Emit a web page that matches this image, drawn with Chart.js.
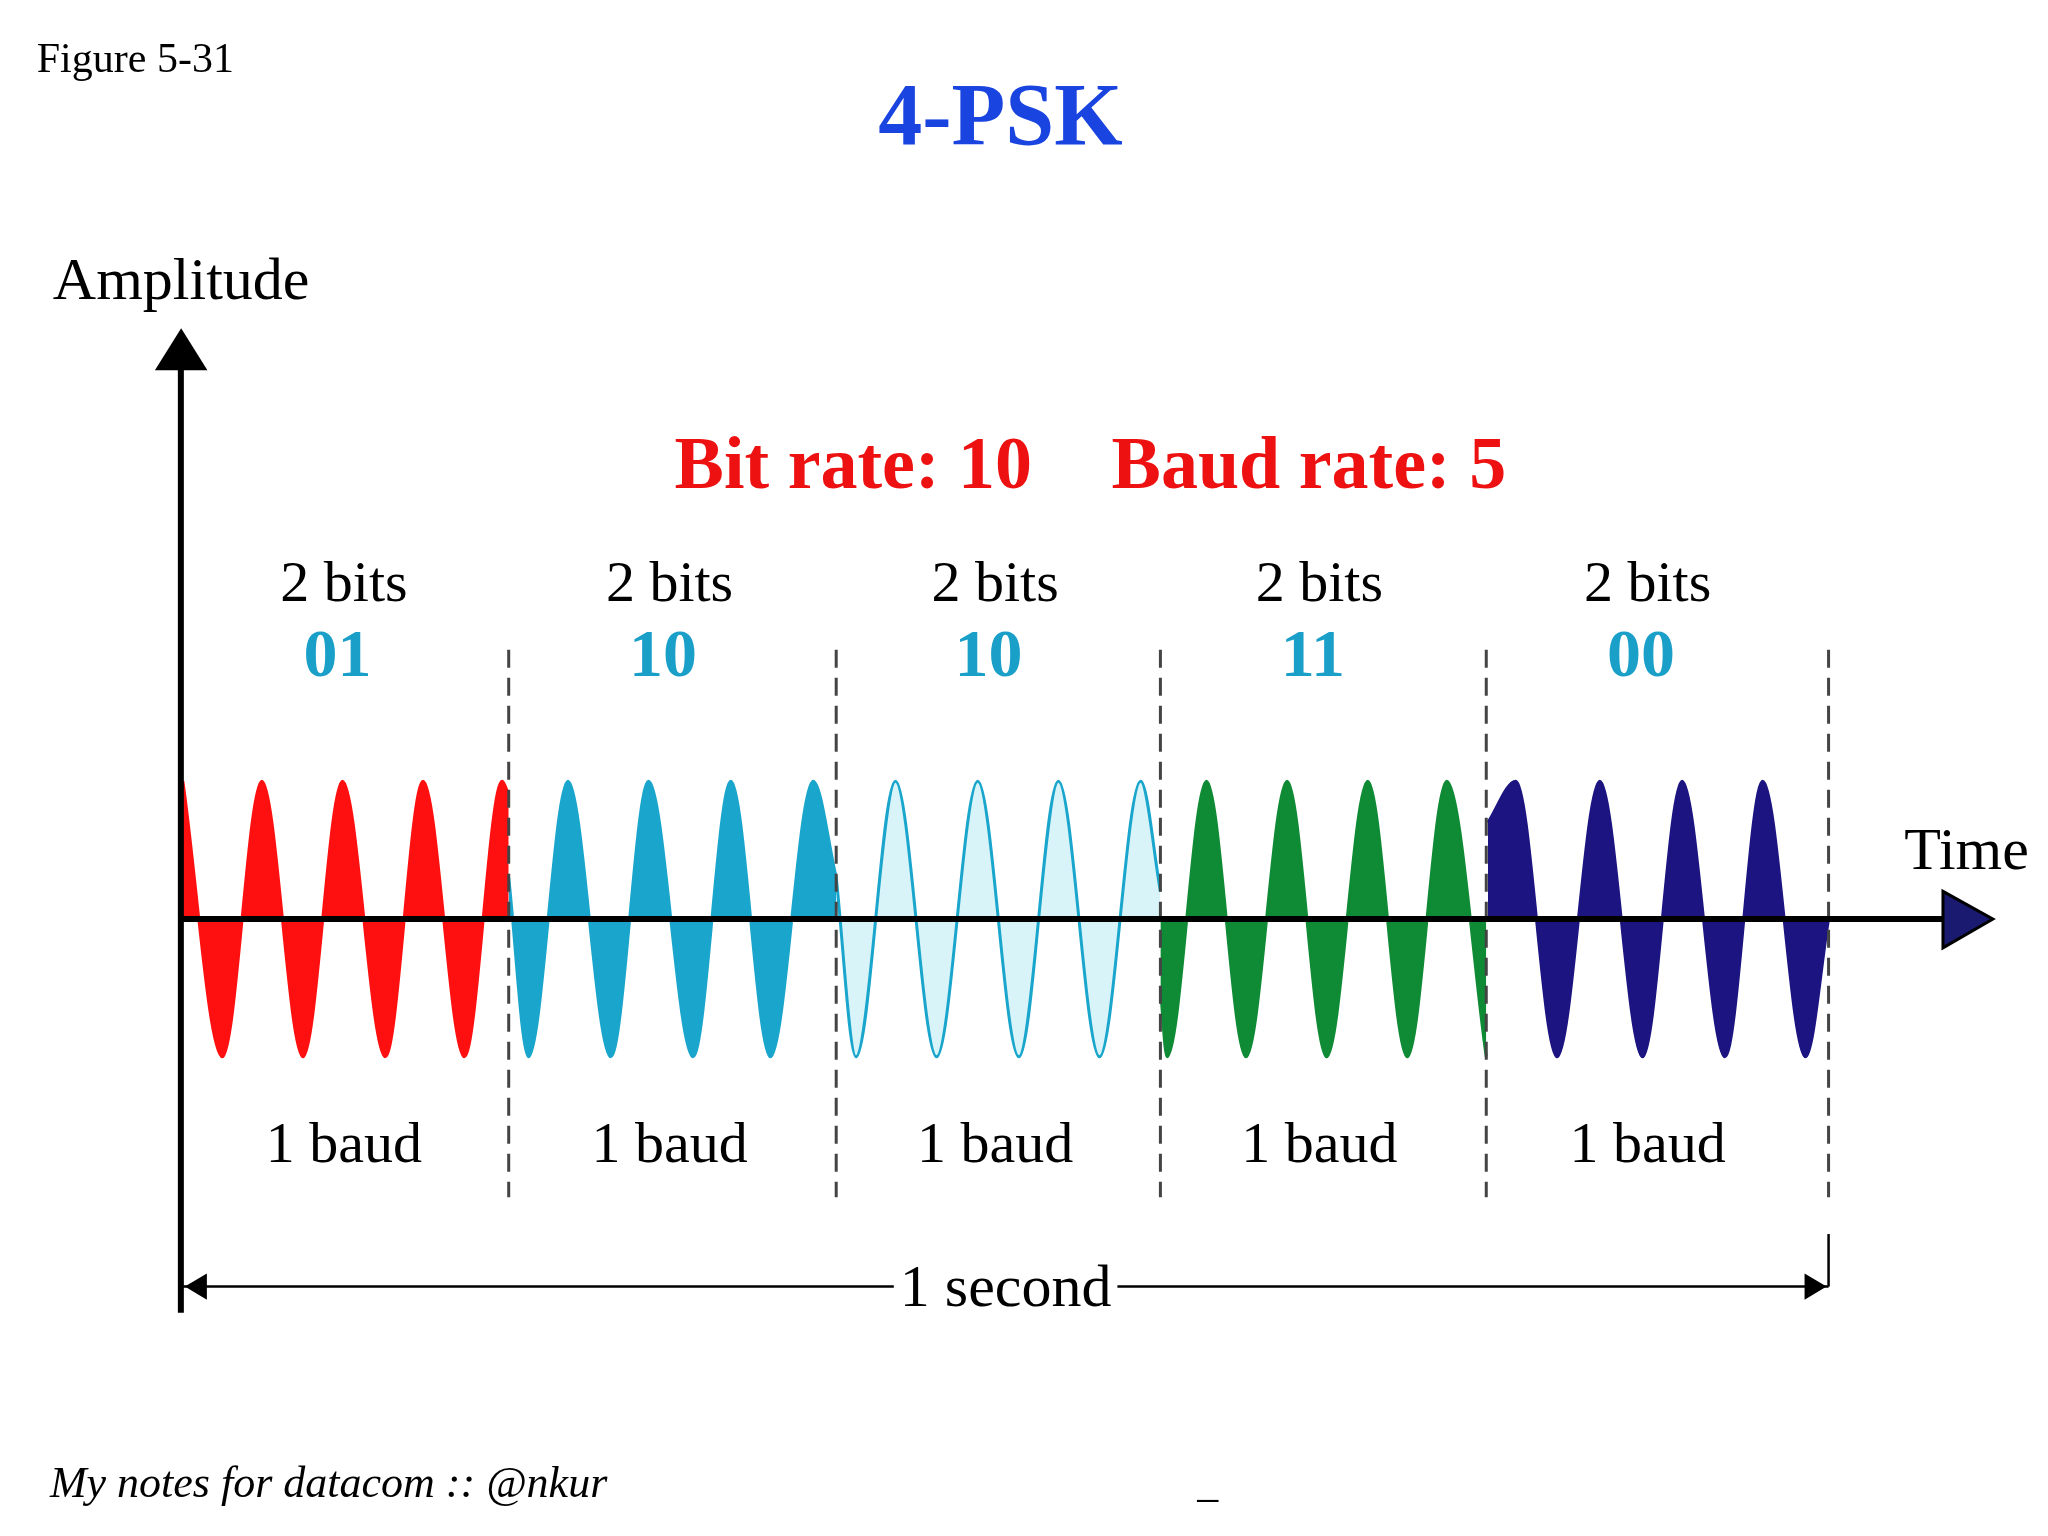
<!DOCTYPE html>
<html><head><meta charset="utf-8">
<script src="https://cdn.jsdelivr.net/npm/chart.js@4"></script>
<style>html,body{margin:0;padding:0;background:#fff}canvas{display:block}</style>
</head><body>
<canvas id="c" width="2048" height="1536" style="width:2048px;height:1536px"></canvas>
<script>
// Time (s) of each extreme and its amplitude
const seg1T=[0,0.024,0.048,0.073,0.097,0.123,0.146,0.171,0.194,0.198];
const seg1A=[1,-1,1,-1,1,-1,1,-1,1,0.9];
const seg2T=[0.198,0.21,0.234,0.26,0.283,0.31,0.333,0.357,0.383,0.397];
const seg2A=[0.3,-1,1,-1,1,-1,1,-1,1,0.3];
const seg3T=[0.397,0.409,0.433,0.458,0.483,0.508,0.532,0.557,0.582,0.594];
const seg3A=[0.3,-1,1,-1,1,-1,1,-1,1,0.2];
const seg4T=[0.594,0.598,0.622,0.646,0.671,0.695,0.72,0.744,0.768,0.792];
const seg4A=[-0.5,-1,1,-1,1,-1,1,-1,1,-1];
const seg5T=[0.793,0.81,0.835,0.861,0.887,0.911,0.937,0.96,0.986,1.0];
const seg5A=[0.7,1,-1,1,-1,1,-1,1,-1,0];
const bitLabels=["01","10","10","11","00"];
const baudBounds=[0.198,0.397,0.594,0.792,1.0];

const S=2048/1560;
const pts=(t,a)=>t.map((v,i)=>({x:v,y:a[i]}));
const ds=(t,a,fill,border)=>({data:pts(t,a),fill:'origin',backgroundColor:fill,borderColor:border,borderWidth:3,pointRadius:0,cubicInterpolationMode:'monotone'});

const deco={id:'deco',afterDatasetsDraw(ch){
  const c=ch.ctx,X=ch.scales.x,Y=ch.scales.y;
  const px=t=>X.getPixelForValue(t), py=v=>Y.getPixelForValue(v);
  const F='"Liberation Serif", "DejaVu Serif", serif';
  c.save();
  c.strokeStyle='#444';c.lineWidth=3;c.setLineDash([18,10]);
  baudBounds.forEach(b=>{c.beginPath();c.moveTo(px(b),495*S);c.lineTo(px(b),912*S);c.stroke();});
  c.setLineDash([]);
  c.strokeStyle='#000';c.lineWidth=6;
  c.beginPath();c.moveTo(px(0)-2,1000*S);c.lineTo(px(0)-2,270*S);c.stroke();
  c.beginPath();c.moveTo(px(0)-2,py(0));c.lineTo(1490*S,py(0));c.stroke();
  c.fillStyle='#000';c.beginPath();c.moveTo(138*S,250*S);c.lineTo(118*S,282*S);c.lineTo(158*S,282*S);c.closePath();c.fill();
  c.fillStyle='#1a1a70';c.lineWidth=3;c.beginPath();c.moveTo(1518*S,py(0));c.lineTo(1480*S,679*S);c.lineTo(1480*S,722*S);c.closePath();c.fill();c.stroke();
  c.lineWidth=2.5;c.beginPath();c.moveTo(px(0),980*S);c.lineTo(px(1),980*S);c.stroke();
  c.beginPath();c.moveTo(px(1),940*S);c.lineTo(px(1),980*S);c.stroke();
  c.fillStyle='#000';
  c.beginPath();c.moveTo(px(0)+2,980*S);c.lineTo(px(0)+24,970*S);c.lineTo(px(0)+24,990*S);c.closePath();c.fill();
  c.beginPath();c.moveTo(px(1)-2,980*S);c.lineTo(px(1)-24,970*S);c.lineTo(px(1)-24,990*S);c.closePath();c.fill();
  const T=(s,x,y,font,col,al)=>{c.font=font;c.fillStyle=col;c.textAlign=al||'center';c.textBaseline='alphabetic';c.fillText(s,x*S,y*S);};
  c.font='60px '+F;const w=c.measureText('1 second').width;
  c.fillStyle='#fff';c.fillRect(766*S-w/2-6,945*S,w+12,50*S);
  T('Figure 5-31',28,55,'42px '+F,'#000','left');
  T('4-PSK',762,110,'bold 88px '+F,'#1a44e0');
  T('Amplitude',138,228,'60px '+F,'#000');
  T('Bit rate: 10',650,372,'bold 74px '+F,'#ee1111');
  T('Baud rate: 5',997,372,'bold 74px '+F,'#ee1111');
  T('Time',1498,662,'60px '+F,'#000');
  const centers=[262,510,758,1005,1255];
  centers.forEach((x,i)=>{
    T('2 bits',x,458,'58px '+F,'#000');
    T(bitLabels[i],x-5,515,'bold 68px '+F,'#1a9fc8');
    T('1 baud',x,885,'58px '+F,'#000');
  });
  T('1 second',766,995,'60px '+F,'#000');
  T('My notes for datacom :: @nkur',38,1140,'italic 44px '+F,'#000','left');
  T('_',920,1140,'42px '+F,'#000');
  c.restore();
}};

new Chart(document.getElementById('c'),{
  type:'line',
  data:{datasets:[
    ds(seg1T,seg1A,'#ff1010','#ff1010'),
    ds(seg2T,seg2A,'#1aa6cc','#1aa6cc'),
    ds(seg3T,seg3A,'#d8f4f8','#1aa6cc'),
    ds(seg4T,seg4A,'#0f8a35','#0f8a35'),
    ds(seg5T,seg5A,'#1c1480','#1c1480')
  ]},
  options:{responsive:false,animation:false,devicePixelRatio:1,
    layout:{padding:0},
    plugins:{legend:{display:false},tooltip:{enabled:false}},
    scales:{
      x:{type:'linear',min:-140/1260,max:1428/1260,display:false},
      y:{min:(700-1170)/105,max:700/105,display:false}
    }},
  plugins:[deco]
});
</script>
</body></html>
